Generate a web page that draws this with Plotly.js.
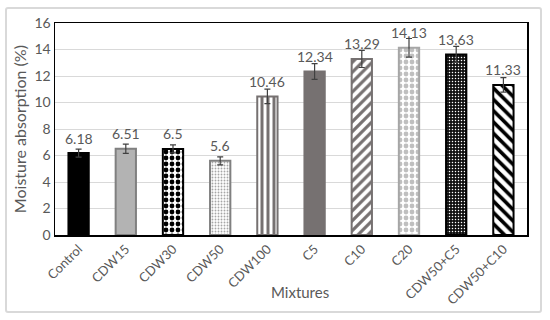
<!DOCTYPE html>
<html>
<head>
<meta charset="utf-8">
<script src="https://cdn.plot.ly/plotly-3.0.1.min.js"></script>
<style>
html,body{margin:0;padding:0;background:#fff;}
#wrap{position:relative;width:550px;height:320px;}
#chart{position:absolute;left:0;top:0;width:550px;height:320px;}
#frame{position:absolute;left:5px;top:7px;width:533px;height:302px;border:2px solid #d9d9d9;border-radius:3px;pointer-events:none;}
</style>
</head>
<body>
<div id="wrap">
<div id="chart"></div>
<div id="frame"></div>
</div>
<script>
const categories = ["Control","CDW15","CDW30","CDW50","CDW100","C5","C10","C20","CDW50+C5","CDW50+C10"];
const values = [6.18, 6.51, 6.5, 5.6, 10.46, 12.34, 13.29, 14.13, 13.63, 11.33];
const errors = [0.3, 0.35, 0.3, 0.3, 0.55, 0.6, 0.65, 0.7, 0.6, 0.55];
const yTicks = [0, 2, 4, 6, 8, 10, 12, 14, 16];

const fillColors = ["#000000","#b3b3b3","#ffffff","#ffffff","#ffffff","#767171","#ffffff","#ffffff","#111111","#ffffff"];
const lineColors = ["#000000","#808080","#000000","#808080","#767171","#767171","#767171","#a6a6a6","#000000","#000000"];
const patShapes = ["","",".",".","|","","/",".",".","\\"];
const patFg = ["#000000","#000000","#000000","#a6a6a6","#767171","#000000","#767171","#bfbfbf","#ffffff","#000000"];
const patBg = ["#000000","#b3b3b3","#ffffff","#ffffff","#ffffff","#767171","#ffffff","#ffffff","#111111","#ffffff"];
const patSize = [6,6,6,3,6,6,7,6,3,8];
const patSolid = [0.3,0.3,0.5,0.3,0.5,0.3,0.45,0.5,0.2,0.45];

const font = "Lato, 'Liberation Sans', sans-serif";
const txt = "#595959";

const traces = categories.map((c, i) => {
  const marker = {color: fillColors[i], line: {color: lineColors[i], width: 2}};
  if (patShapes[i]) {
    marker.pattern = {shape: patShapes[i], fgcolor: patFg[i], bgcolor: patBg[i], size: patSize[i], solidity: patSolid[i]};
  }
  return {
    type: "bar", x: [c], y: [values[i]], name: c, marker: marker,
    error_y: {type: "data", array: [errors[i]], visible: true, color: "#404040", thickness: 1.2, width: 3},
    hoverinfo: "none"
  };
});

const annotations = categories.map((c, i) => ({
  x: c, y: values[i], xref: "x", yref: "y", text: String(values[i]),
  showarrow: false, yshift: 15, font: {family: font, size: 14, color: txt}
}));
annotations.push({
  xref: "paper", yref: "paper", x: 0.52, y: -0.27, yanchor: "middle", xanchor: "center",
  text: "Mixtures", showarrow: false, font: {family: font, size: 15, color: txt}
});
annotations.push({
  xref: "paper", yref: "paper", x: -0.076, y: 0.5, xanchor: "center", yanchor: "middle", textangle: -90,
  text: "Moisture absorption (%)", showarrow: false, font: {family: font, size: 16, color: txt}
});

const layout = {
  width: 550, height: 320,
  margin: {l: 55, r: 23, t: 23, b: 85},
  paper_bgcolor: "#ffffff", plot_bgcolor: "#ffffff",
  barmode: "overlay",
  bargap: 0.57,
  showlegend: false,
  font: {family: font, color: txt},
  xaxis: {
    type: "category", categoryorder: "array", categoryarray: categories,
    tickangle: -45, tickfont: {family: font, size: 13, color: txt},
    showline: true, linecolor: "#000000", linewidth: 1.5, mirror: true,
    ticks: "", fixedrange: true
  },
  yaxis: {
    range: [0, 16], tickvals: yTicks, ticktext: yTicks.map(String),
    tickfont: {family: font, size: 14, color: txt},
    showgrid: true, gridcolor: "#d9d9d9", gridwidth: 1,
    showline: true, linecolor: "#000000", linewidth: 1.5, mirror: true,
    zeroline: false, ticks: "", fixedrange: true
  },
  annotations: annotations
};

Plotly.newPlot("chart", traces, layout, {staticPlot: true, displayModeBar: false});
</script>
</body>
</html>
